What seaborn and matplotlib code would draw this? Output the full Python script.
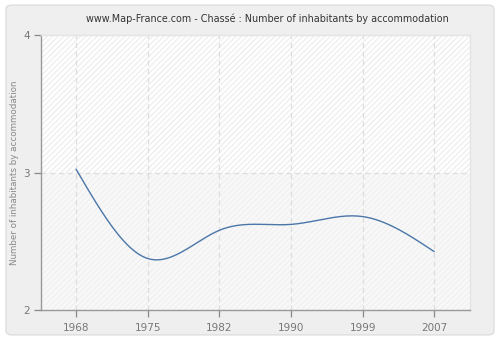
import numpy as np
import pandas as pd
import matplotlib
matplotlib.use("Agg")
import matplotlib.pyplot as plt
from matplotlib.patches import FancyBboxPatch
import seaborn as sns

years = ["1968", "1975", "1982", "1990", "1999", "2007"]
inhabitants = [3.024, 2.375, 2.58, 2.623, 2.68, 2.425]
y_ticks = [2, 3, 4]

title = "www.Map-France.com - Chassé : Number of inhabitants by accommodation"
y_label = "Number of inhabitants by accommodation"


def natural_spline(x, y, n=400):
    """Natural cubic spline through the given points, sampled densely."""
    x = np.asarray(x, float)
    y = np.asarray(y, float)
    m = len(x)
    h = np.diff(x)
    A = np.zeros((m, m))
    b = np.zeros(m)
    A[0, 0] = A[-1, -1] = 1.0
    for i in range(1, m - 1):
        A[i, i - 1] = h[i - 1]
        A[i, i] = 2 * (h[i - 1] + h[i])
        A[i, i + 1] = h[i]
        b[i] = 3 * ((y[i + 1] - y[i]) / h[i] - (y[i] - y[i - 1]) / h[i - 1])
    c = np.linalg.solve(A, b)
    xs = np.linspace(x[0], x[-1], n)
    idx = np.clip(np.searchsorted(x, xs, side="right") - 1, 0, m - 2)
    dx = xs - x[idx]
    bb = (y[idx + 1] - y[idx]) / h[idx] - h[idx] * (2 * c[idx] + c[idx + 1]) / 3
    dd = (c[idx + 1] - c[idx]) / (3 * h[idx])
    ys = y[idx] + bb * dx + c[idx] * dx ** 2 + dd * dx ** 3
    return xs, ys


sns.set_theme(style="white")
plt.rcParams["font.family"] = ["DejaVu Sans"]

fig = plt.figure(figsize=(5.0, 3.4), dpi=100, facecolor="white")
frame = FancyBboxPatch((0.012, 0.015), 0.976, 0.97,
                       boxstyle="round,pad=0,rounding_size=0.012",
                       transform=fig.transFigure, facecolor="#efefef",
                       edgecolor="#dedede", linewidth=1.0, zorder=-10)
fig.patches.append(frame)

ax = fig.add_axes([0.082, 0.088, 0.858, 0.809])
ax.set_zorder(5)
ax.set_facecolor("white")

# hatched plot background, slightly greyer below the middle gridline
ax.axhspan(3, 4, facecolor="white", edgecolor="#efefef", hatch="//////",
           linewidth=0, zorder=0)
ax.axhspan(2, 3, facecolor="#f8f8f8", edgecolor="#f1f1f1", hatch="//////",
           linewidth=0, zorder=0)

pos = np.arange(len(years))
xs, ys = natural_spline(pos, inhabitants)
curve = pd.DataFrame({"pos": xs, "value": ys})
sns.lineplot(data=curve, x="pos", y="value", ax=ax, color="#4a76a8",
             linewidth=1.0, zorder=3)

for p in pos:
    ax.axvline(p, color="#dddddd", linestyle=(0, (4, 3)), linewidth=0.9, zorder=1)
ax.axhline(3, color="#dddddd", linestyle=(0, (4, 3)), linewidth=0.9, zorder=1)

ax.set_xlim(-0.49, 5.5)
ax.set_ylim(2, 4)
ax.set_xticks(pos)
ax.set_xticklabels(years)
ax.set_yticks(y_ticks)
ax.set_yticklabels([str(t) for t in y_ticks])
ax.set_xlabel("")
ax.set_ylabel(y_label, color="#888888", fontsize=6.3, labelpad=3)
ax.tick_params(axis="both", colors="#888888", labelcolor="#777777",
               labelsize=7.5, length=5, width=0.9, direction="out",
               left=True, bottom=True)
ax.tick_params(axis="x", pad=4)
ax.tick_params(axis="y", pad=3)

for side in ("left", "bottom"):
    ax.spines[side].set_color("#999999")
    ax.spines[side].set_linewidth(1.0)
for side in ("top", "right"):
    ax.spines[side].set_color("#e4e4e4")
    ax.spines[side].set_linewidth(1.0)

fig.text(0.534, 0.944, title, ha="center", va="center", fontsize=6.9,
         color="#333333")

fig.savefig("out.png", dpi=100, facecolor=fig.get_facecolor())
